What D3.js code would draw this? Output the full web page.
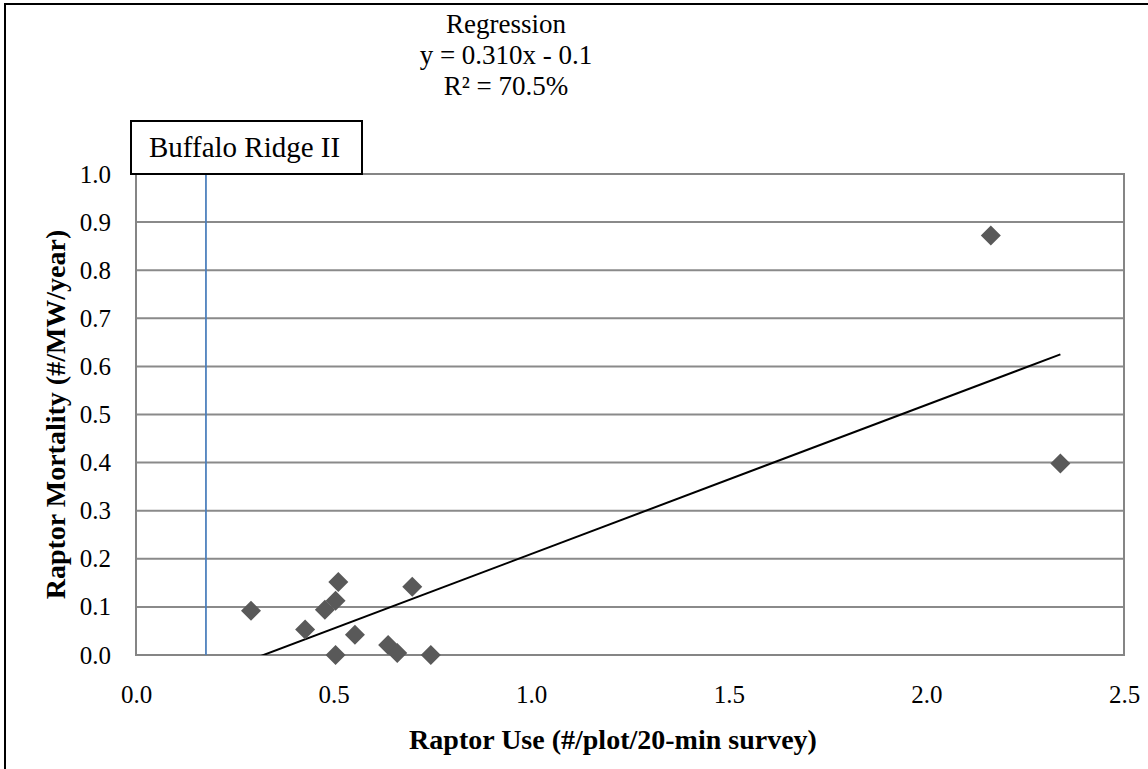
<!DOCTYPE html>
<html>
<head>
<meta charset="utf-8">
<script src="https://cdn.jsdelivr.net/npm/d3@7"></script>
<style>
  html, body { margin: 0; padding: 0; background: #ffffff; }
</style>
</head>
<body>
<svg id="chart" width="1148" height="769"></svg>
<script>
// ---- data ----
const raptorUse = [0.291, 0.428, 0.478, 0.505, 0.512, 0.505, 0.554, 0.638, 0.661, 0.699, 0.746, 2.163, 2.339];
const raptorMortality = [0.092, 0.053, 0.094, 0.113, 0.152, 0.0, 0.042, 0.021, 0.004, 0.142, 0.0, 0.872, 0.398];
const xTicks = [0.0, 0.5, 1.0, 1.5, 2.0, 2.5];
const yTicks = [0.0, 0.1, 0.2, 0.3, 0.4, 0.5, 0.6, 0.7, 0.8, 0.9, 1.0];
const slope = 0.310, intercept = -0.1;
const buffaloRidgeUse = [0.177];
const titleLines = ["Regression", "y = 0.310x - 0.1", "R\u00B2 = 70.5%"];
const siteLabel = ["Buffalo Ridge II"];
const xTitle = "Raptor Use (#/plot/20-min survey)";
const yTitle = "Raptor Mortality (#/MW/year)";

// ---- pick an installed Times-like font ----
const svg = d3.select("#chart");
function fontExists(name) {
  const t = svg.append("text").attr("font-size", 40).text("Regression Wmil 0.310");
  t.attr("font-family", "monospace");
  const w0 = t.node().getComputedTextLength();
  t.attr("font-family", `"${name}", monospace`);
  const w1 = t.node().getComputedTextLength();
  t.remove();
  return Math.abs(w0 - w1) > 0.5;
}
const candidates = ["Liberation Serif", "Times New Roman", "Tinos", "Nimbus Roman", "DejaVu Serif"];
const found = candidates.find(fontExists);
const FONT = found ? `"${found}", serif` : "serif";

// ---- layout ----
const plot = { left: 136, right: 1124, top: 174, bottom: 655 };
const x = d3.scaleLinear().domain([0, 2.5]).range([plot.left, plot.right]);
const y = d3.scaleLinear().domain([0, 1.0]).range([plot.bottom, plot.top]);

// outer frame
svg.append("rect").attr("x", 5).attr("y", 4).attr("width", 1200).attr("height", 800)
  .attr("fill", "none").attr("stroke", "#000").attr("stroke-width", 2);

// gridlines
svg.append("g").selectAll("line").data(yTicks).join("line")
  .attr("x1", plot.left).attr("x2", plot.right)
  .attr("y1", d => y(d)).attr("y2", d => y(d))
  .attr("stroke", "#8a8a8a").attr("stroke-width", 2);

// plot border
svg.append("rect").attr("x", plot.left).attr("y", plot.top)
  .attr("width", plot.right - plot.left).attr("height", plot.bottom - plot.top)
  .attr("fill", "none").attr("stroke", "#858585").attr("stroke-width", 2);

// axes (labels only)
const yAxis = d3.axisLeft(y).tickValues(yTicks).tickFormat(d3.format(".1f")).tickSize(0).tickPadding(25);
const gy = svg.append("g").attr("transform", `translate(${plot.left},0)`).call(yAxis);
gy.select(".domain").remove();
gy.attr("font-family", null).attr("font-size", null);
gy.selectAll("text").style("font-family", FONT).attr("font-size", 25).attr("fill", "#000");

const xAxis = d3.axisBottom(x).tickValues(xTicks).tickFormat(d3.format(".1f")).tickSize(0).tickPadding(30);
const gx = svg.append("g").attr("transform", `translate(0,${plot.bottom})`).call(xAxis);
gx.select(".domain").remove();
gx.attr("font-family", null).attr("font-size", null);
gx.selectAll("text").style("font-family", FONT).attr("font-size", 25).attr("fill", "#000");

// clip path
svg.append("clipPath").attr("id", "clip").append("rect")
  .attr("x", plot.left).attr("y", plot.top)
  .attr("width", plot.right - plot.left).attr("height", plot.bottom - plot.top);

// Buffalo Ridge II vertical line
svg.append("g").selectAll("line").data(buffaloRidgeUse).join("line")
  .attr("x1", d => x(d)).attr("x2", d => x(d))
  .attr("y1", y(0)).attr("y2", y(1.0))
  .attr("stroke", "#4a7ebb").attr("stroke-width", 1.75);

// regression line
const xMin = d3.min(raptorUse), xMax = d3.max(raptorUse);
svg.append("line").attr("clip-path", "url(#clip)")
  .attr("x1", x(xMin)).attr("y1", y(slope * xMin + intercept))
  .attr("x2", x(xMax)).attr("y2", y(slope * xMax + intercept))
  .attr("stroke", "#000").attr("stroke-width", 2);

// points
const pts = raptorUse.map((u, i) => ({ u, m: raptorMortality[i] }));
svg.append("g").selectAll("path").data(pts).join("path")
  .attr("d", d3.symbol(d3.symbolSquare, 200))
  .attr("transform", d => `translate(${x(d.u)},${y(d.m)}) rotate(45)`)
  .attr("fill", "#595959");

// site label box
const box = svg.append("g");
box.append("rect").attr("x", 131).attr("y", 121).attr("width", 231).attr("height", 53)
  .attr("fill", "#fff").attr("stroke", "#000").attr("stroke-width", 2);
box.append("text").attr("x", 149).attr("y", 157).style("font-family", FONT)
  .attr("font-size", 29).text(siteLabel[0]);

// title
svg.append("g").selectAll("text").data(titleLines).join("text")
  .attr("x", 506).attr("y", (d, i) => 33 + i * 31)
  .attr("text-anchor", "middle").style("font-family", FONT).attr("font-size", 27).text(d => d);

// axis titles
svg.append("text").attr("x", 613).attr("y", 749)
  .attr("text-anchor", "middle").style("font-family", FONT).attr("font-size", 28)
  .attr("font-weight", "bold").text(xTitle);
svg.append("text").attr("transform", `translate(65,${(plot.top + plot.bottom) / 2}) rotate(-90)`)
  .attr("text-anchor", "middle").style("font-family", FONT).attr("font-size", 28)
  .attr("font-weight", "bold").text(yTitle);
</script>
</body>
</html>
